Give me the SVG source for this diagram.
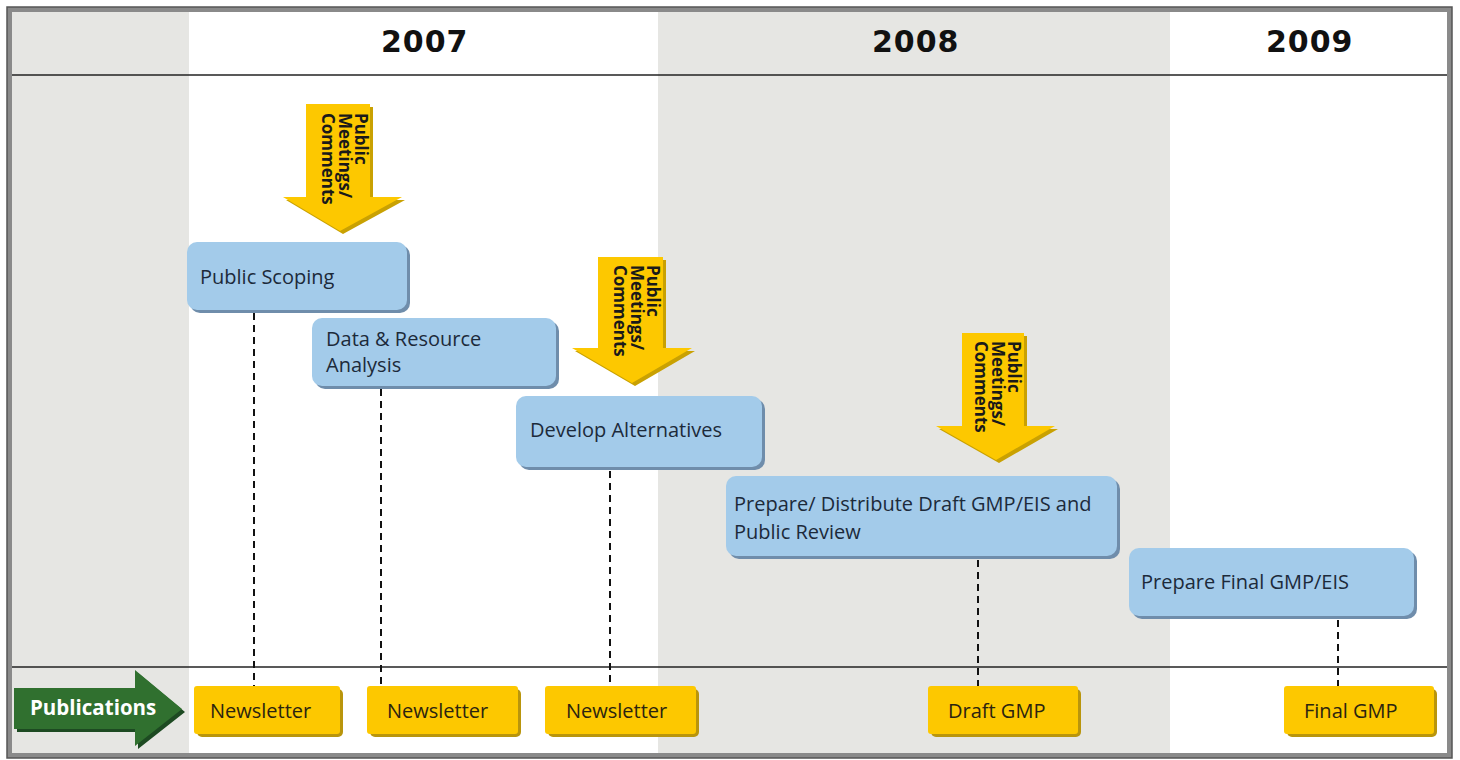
<svg xmlns="http://www.w3.org/2000/svg" width="1460" height="760" viewBox="0 0 1460 760">
<defs>
<style>
.year{font-family:"DejaVu Sans",Verdana,sans-serif;font-weight:bold;font-size:30px;fill:#111;letter-spacing:1px}
.btxt{font-family:"Open Sans","Liberation Sans",sans-serif;font-size:20px;fill:#1c2a3a}
.ytxt{font-family:"Open Sans","Liberation Sans",sans-serif;font-size:20px;fill:#2b2410}
.atxt{font-family:"Open Sans","Liberation Sans",sans-serif;font-weight:bold;font-size:17px;fill:#1a1a1a}
.box{fill:#a3cbea}
.boxsh{fill:#6f8dab}
.ybox{fill:#fdc800}
.ysh{fill:#b9950c}
.yarr{fill:#fdc800}
.yarrsh{fill:#c9a102}
.dash{stroke:#111;stroke-width:2;stroke-dasharray:7 5;fill:none}
</style>
</defs>
<rect x="0" y="0" width="1460" height="760" fill="#ffffff"/>
<g id="background">
<rect x="12" y="12" width="177" height="742" fill="#e6e6e3"/>
<rect x="189" y="12" width="469" height="742" fill="#ffffff"/>
<rect x="658" y="12" width="512" height="742" fill="#e6e6e3"/>
<rect x="1170" y="12" width="277" height="742" fill="#ffffff"/>
<line x1="12" y1="75" x2="1447" y2="75" stroke="#222" stroke-width="1.5"/>
<line x1="12" y1="667" x2="1447" y2="667" stroke="#222" stroke-width="1.5"/>
<rect x="9.5" y="9.5" width="1440" height="746" fill="none" stroke="#8a8a8a" stroke-width="5"/>
<rect x="7" y="7" width="1445" height="751" fill="none" stroke="#555" stroke-width="1.5"/>
</g>
<g id="years">
<text class="year" x="381" y="52">2007</text>
<text class="year" x="872" y="52">2008</text>
<text class="year" x="1266" y="52">2009</text>
</g>
<g id="connectors">
<line class="dash" x1="254" y1="313" x2="254" y2="686"/>
<line class="dash" x1="381" y1="389" x2="381" y2="686"/>
<line class="dash" x1="610" y1="471" x2="610" y2="686"/>
<line class="dash" x1="978" y1="560" x2="978" y2="686"/>
<line class="dash" x1="1338" y1="620" x2="1338" y2="686"/>
</g>
<g id="arrow-meetings-1">
<polygon class="yarrsh" points="309,107 373,107 373,200 405,200 343,234 286,200 309,200"/>
<polygon class="yarr" points="306,104 370,104 370,197 402,197 340,231 283,197 306,197"/>
<text class="atxt" transform="translate(355,113) rotate(90)"><tspan x="0" dy="0">Public</tspan><tspan x="0" dy="16.5">Meetings/</tspan><tspan x="0" dy="16.5">Comments</tspan></text>
</g>
<g id="arrow-meetings-2">
<polygon class="yarrsh" points="601,260 666,260 666,351 695,351 635,386 575,351 601,351"/>
<polygon class="yarr" points="598,257 663,257 663,348 692,348 632,383 572,348 598,348"/>
<text class="atxt" transform="translate(647,265) rotate(90)"><tspan x="0" dy="0">Public</tspan><tspan x="0" dy="16.5">Meetings/</tspan><tspan x="0" dy="16.5">Comments</tspan></text>
</g>
<g id="arrow-meetings-3">
<polygon class="yarrsh" points="965,336 1027,336 1027,429 1058,429 999,463 939,429 965,429"/>
<polygon class="yarr" points="962,333 1024,333 1024,426 1055,426 996,460 936,426 962,426"/>
<text class="atxt" transform="translate(1008,341) rotate(90)"><tspan x="0" dy="0">Public</tspan><tspan x="0" dy="16.5">Meetings/</tspan><tspan x="0" dy="16.5">Comments</tspan></text>
</g>
<g id="public-scoping">
<rect class="boxsh" x="190" y="245" width="220" height="68" rx="10"/>
<rect class="box" x="187" y="242" width="220" height="68" rx="10"/>
<text class="btxt" x="200" y="284">Public Scoping</text>
</g>
<g id="data-resource-analysis">
<rect class="boxsh" x="315" y="321" width="244" height="68" rx="10"/>
<rect class="box" x="312" y="318" width="244" height="68" rx="10"/>
<text class="btxt" x="326" y="346">Data &amp; Resource</text>
<text class="btxt" x="326" y="372">Analysis</text>
</g>
<g id="develop-alternatives">
<rect class="boxsh" x="519" y="399" width="246" height="71" rx="10"/>
<rect class="box" x="516" y="396" width="246" height="71" rx="10"/>
<text class="btxt" x="530" y="437">Develop Alternatives</text>
</g>
<g id="draft-gmp-eis">
<rect class="boxsh" x="729" y="479" width="391" height="80" rx="10"/>
<rect class="box" x="726" y="476" width="391" height="80" rx="10"/>
<text class="btxt" x="734" y="511">Prepare/ Distribute Draft GMP/EIS and</text>
<text class="btxt" x="734" y="539">Public Review</text>
</g>
<g id="final-gmp-eis">
<rect class="boxsh" x="1132" y="551" width="285" height="68" rx="10"/>
<rect class="box" x="1129" y="548" width="285" height="68" rx="10"/>
<text class="btxt" x="1141" y="589">Prepare Final GMP/EIS</text>
</g>
<g id="publications">
<polygon fill="#1d4a22" points="17,691 138,691 138,673 185,712 138,749 138,732 17,732"/>
<polygon fill="#30702f" points="14,688 135,688 135,670 182,709 135,746 135,729 14,729"/>
<text x="30" y="715" font-family="'Open Sans','Liberation Sans',sans-serif" font-weight="bold" font-size="20.5" fill="#ffffff">Publications</text>
</g>
<g id="newsletter-1">
<rect class="ysh" x="197" y="689" width="146" height="48" rx="5"/>
<rect class="ybox" x="194" y="686" width="146" height="48" rx="3"/>
<text class="ytxt" x="210" y="718">Newsletter</text>
</g>
<g id="newsletter-2">
<rect class="ysh" x="370" y="689" width="151" height="48" rx="5"/>
<rect class="ybox" x="367" y="686" width="151" height="48" rx="3"/>
<text class="ytxt" x="387" y="718">Newsletter</text>
</g>
<g id="newsletter-3">
<rect class="ysh" x="548" y="689" width="151" height="48" rx="5"/>
<rect class="ybox" x="545" y="686" width="151" height="48" rx="3"/>
<text class="ytxt" x="566" y="718">Newsletter</text>
</g>
<g id="draft-gmp">
<rect class="ysh" x="931" y="689" width="150" height="48" rx="5"/>
<rect class="ybox" x="928" y="686" width="150" height="48" rx="3"/>
<text class="ytxt" x="948" y="718">Draft GMP</text>
</g>
<g id="final-gmp">
<rect class="ysh" x="1287" y="689" width="150" height="48" rx="5"/>
<rect class="ybox" x="1284" y="686" width="150" height="48" rx="3"/>
<text class="ytxt" x="1304" y="718">Final GMP</text>
</g>
</svg>
